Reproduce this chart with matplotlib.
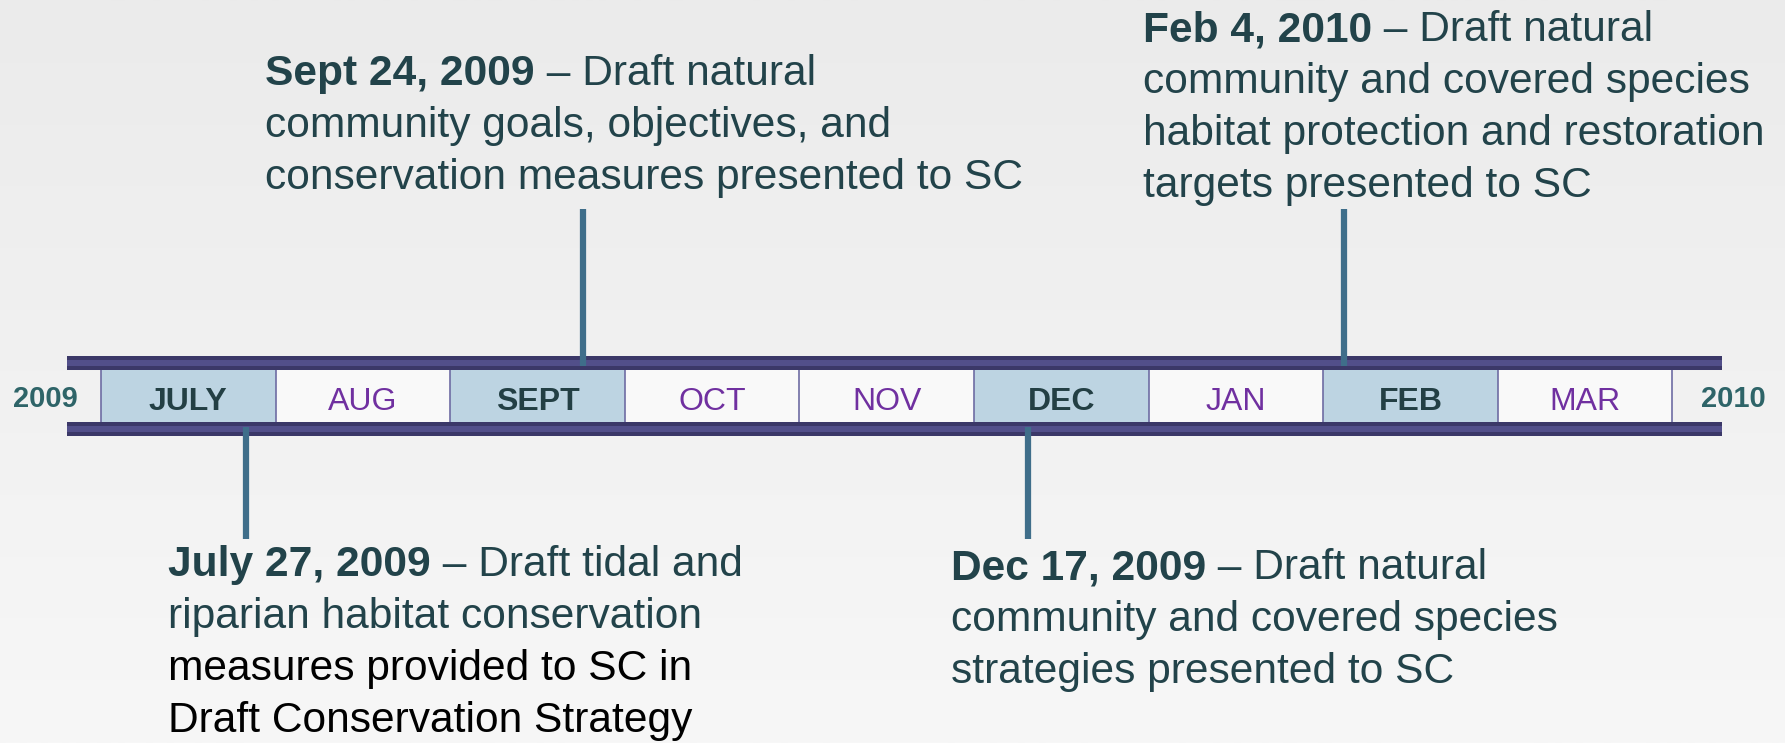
import matplotlib.pyplot as plt
import numpy as np
from matplotlib.patches import Rectangle

plt.rcParams['font.family'] = ['Liberation Sans', 'DejaVu Sans']

# months on the timeline (x unit = one month, July 2009 starts at 0)
months = ['JULY', 'AUG', 'SEPT', 'OCT', 'NOV', 'DEC', 'JAN', 'FEB', 'MAR']
highlight = [True, False, True, False, False, True, False, True, False]
start_year = '2009'
end_year = '2010'

# events: bold date, rest of text, marker position (months since July 1)
event_dates = ['July 27, 2009', 'Sept 24, 2009', 'Dec 17, 2009', 'Feb 4, 2010']
event_lines = [
    [' \u2013 Draft tidal and', 'riparian habitat conservation',
     'measures provided to SC in', 'Draft Conservation Strategy'],
    [' \u2013 Draft natural', 'community goals, objectives, and',
     'conservation measures presented to SC'],
    [' \u2013 Draft natural', 'community and covered species',
     'strategies presented to SC'],
    [' \u2013 Draft natural', 'community and covered species',
     'habitat protection and restoration', 'targets presented to SC'],
]
event_pos = [0.833, 2.763, 5.309, 7.119]
event_above = [False, True, False, True]

# layout (pixel-ish y, month x)
PX = 174.6
X0 = 101
text_x = [(168 - X0) / PX, (265 - X0) / PX, (951 - X0) / PX, (1143 - X0) / PX]
text_y0 = [576, 85, 579, 41]
line_gap = 52
black_from = [2, 99, 99, 99]
fs = 30.6

text_col = '#22434a'
purple = '#7030a0'
band_dark = '#3b3868'
band_light = '#524f8a'
conn_col = '#3f6e8a'

fig = plt.figure(figsize=(17.85, 7.43), dpi=100)
ax = fig.add_axes([0, 0, 1, 1])
ax.set_xlim(-X0 / PX, (1785 - X0) / PX)
ax.set_ylim(743, 0)
ax.axis('off')

# background gradient
grad = np.linspace(0, 1, 256).reshape(-1, 1)
ax.imshow(grad, cmap=plt.matplotlib.colors.LinearSegmentedColormap.from_list(
    'bg', ['#ebebeb', '#f7f7f7']), extent=[-X0 / PX, (1785 - X0) / PX, 743, 0],
    aspect='auto', zorder=0)

n = len(months)
# month cells
for i, (m, h) in enumerate(zip(months, highlight)):
    ax.add_patch(Rectangle((i, 370), 1, 52, facecolor='#bdd4e2' if h else '#f9f9f9',
                           edgecolor='none', zorder=1))
    ax.text(i + 0.5, 409.5, m, ha='center', va='baseline', fontsize=23,
            fontweight='bold' if h else 'normal',
            color='#233f44' if h else purple, zorder=3)
for i in range(n + 1):
    ax.plot([i, i], [370, 422], color='#6e6ca3', lw=1.2, zorder=2)

ax.text(-0.321, 407, start_year, ha='center', va='baseline', fontsize=21,
        fontweight='bold', color='#2e6468')
ax.text(9.347, 407, end_year, ha='center', va='baseline', fontsize=21,
        fontweight='bold', color='#2e6468')

# bands
bx0, bx1 = (67 - X0) / PX, (1722 - X0) / PX
for yb in (356, 422):
    ax.add_patch(Rectangle((bx0, yb), bx1 - bx0, 14, facecolor=band_dark,
                           edgecolor='none', zorder=4))
    ax.add_patch(Rectangle((bx0, yb + 4), bx1 - bx0, 6, facecolor=band_light,
                           edgecolor='none', zorder=4))

# connectors and texts
for k in range(len(event_dates)):
    x = event_pos[k]
    if event_above[k]:
        ax.plot([x, x], [209, 366], color=conn_col, lw=4.5, solid_capstyle='butt', zorder=5)
    else:
        ax.plot([x, x], [427, 539], color=conn_col, lw=4.5, solid_capstyle='butt', zorder=5)
    y = text_y0[k]
    t1 = ax.text(text_x[k], y, event_dates[k], ha='left', va='baseline',
                 fontsize=fs, fontweight='bold', color=text_col)
    ax.annotate(event_lines[k][0], xy=(1, 0), xycoords=t1, ha='left', va='bottom',
                fontsize=fs, color=text_col)
    for j, line in enumerate(event_lines[k][1:], start=1):
        ax.text(text_x[k], y + j * line_gap, line, ha='left', va='baseline',
                fontsize=fs, color='black' if j >= black_from[k] else text_col)

fig.savefig('out.png', dpi=100)
